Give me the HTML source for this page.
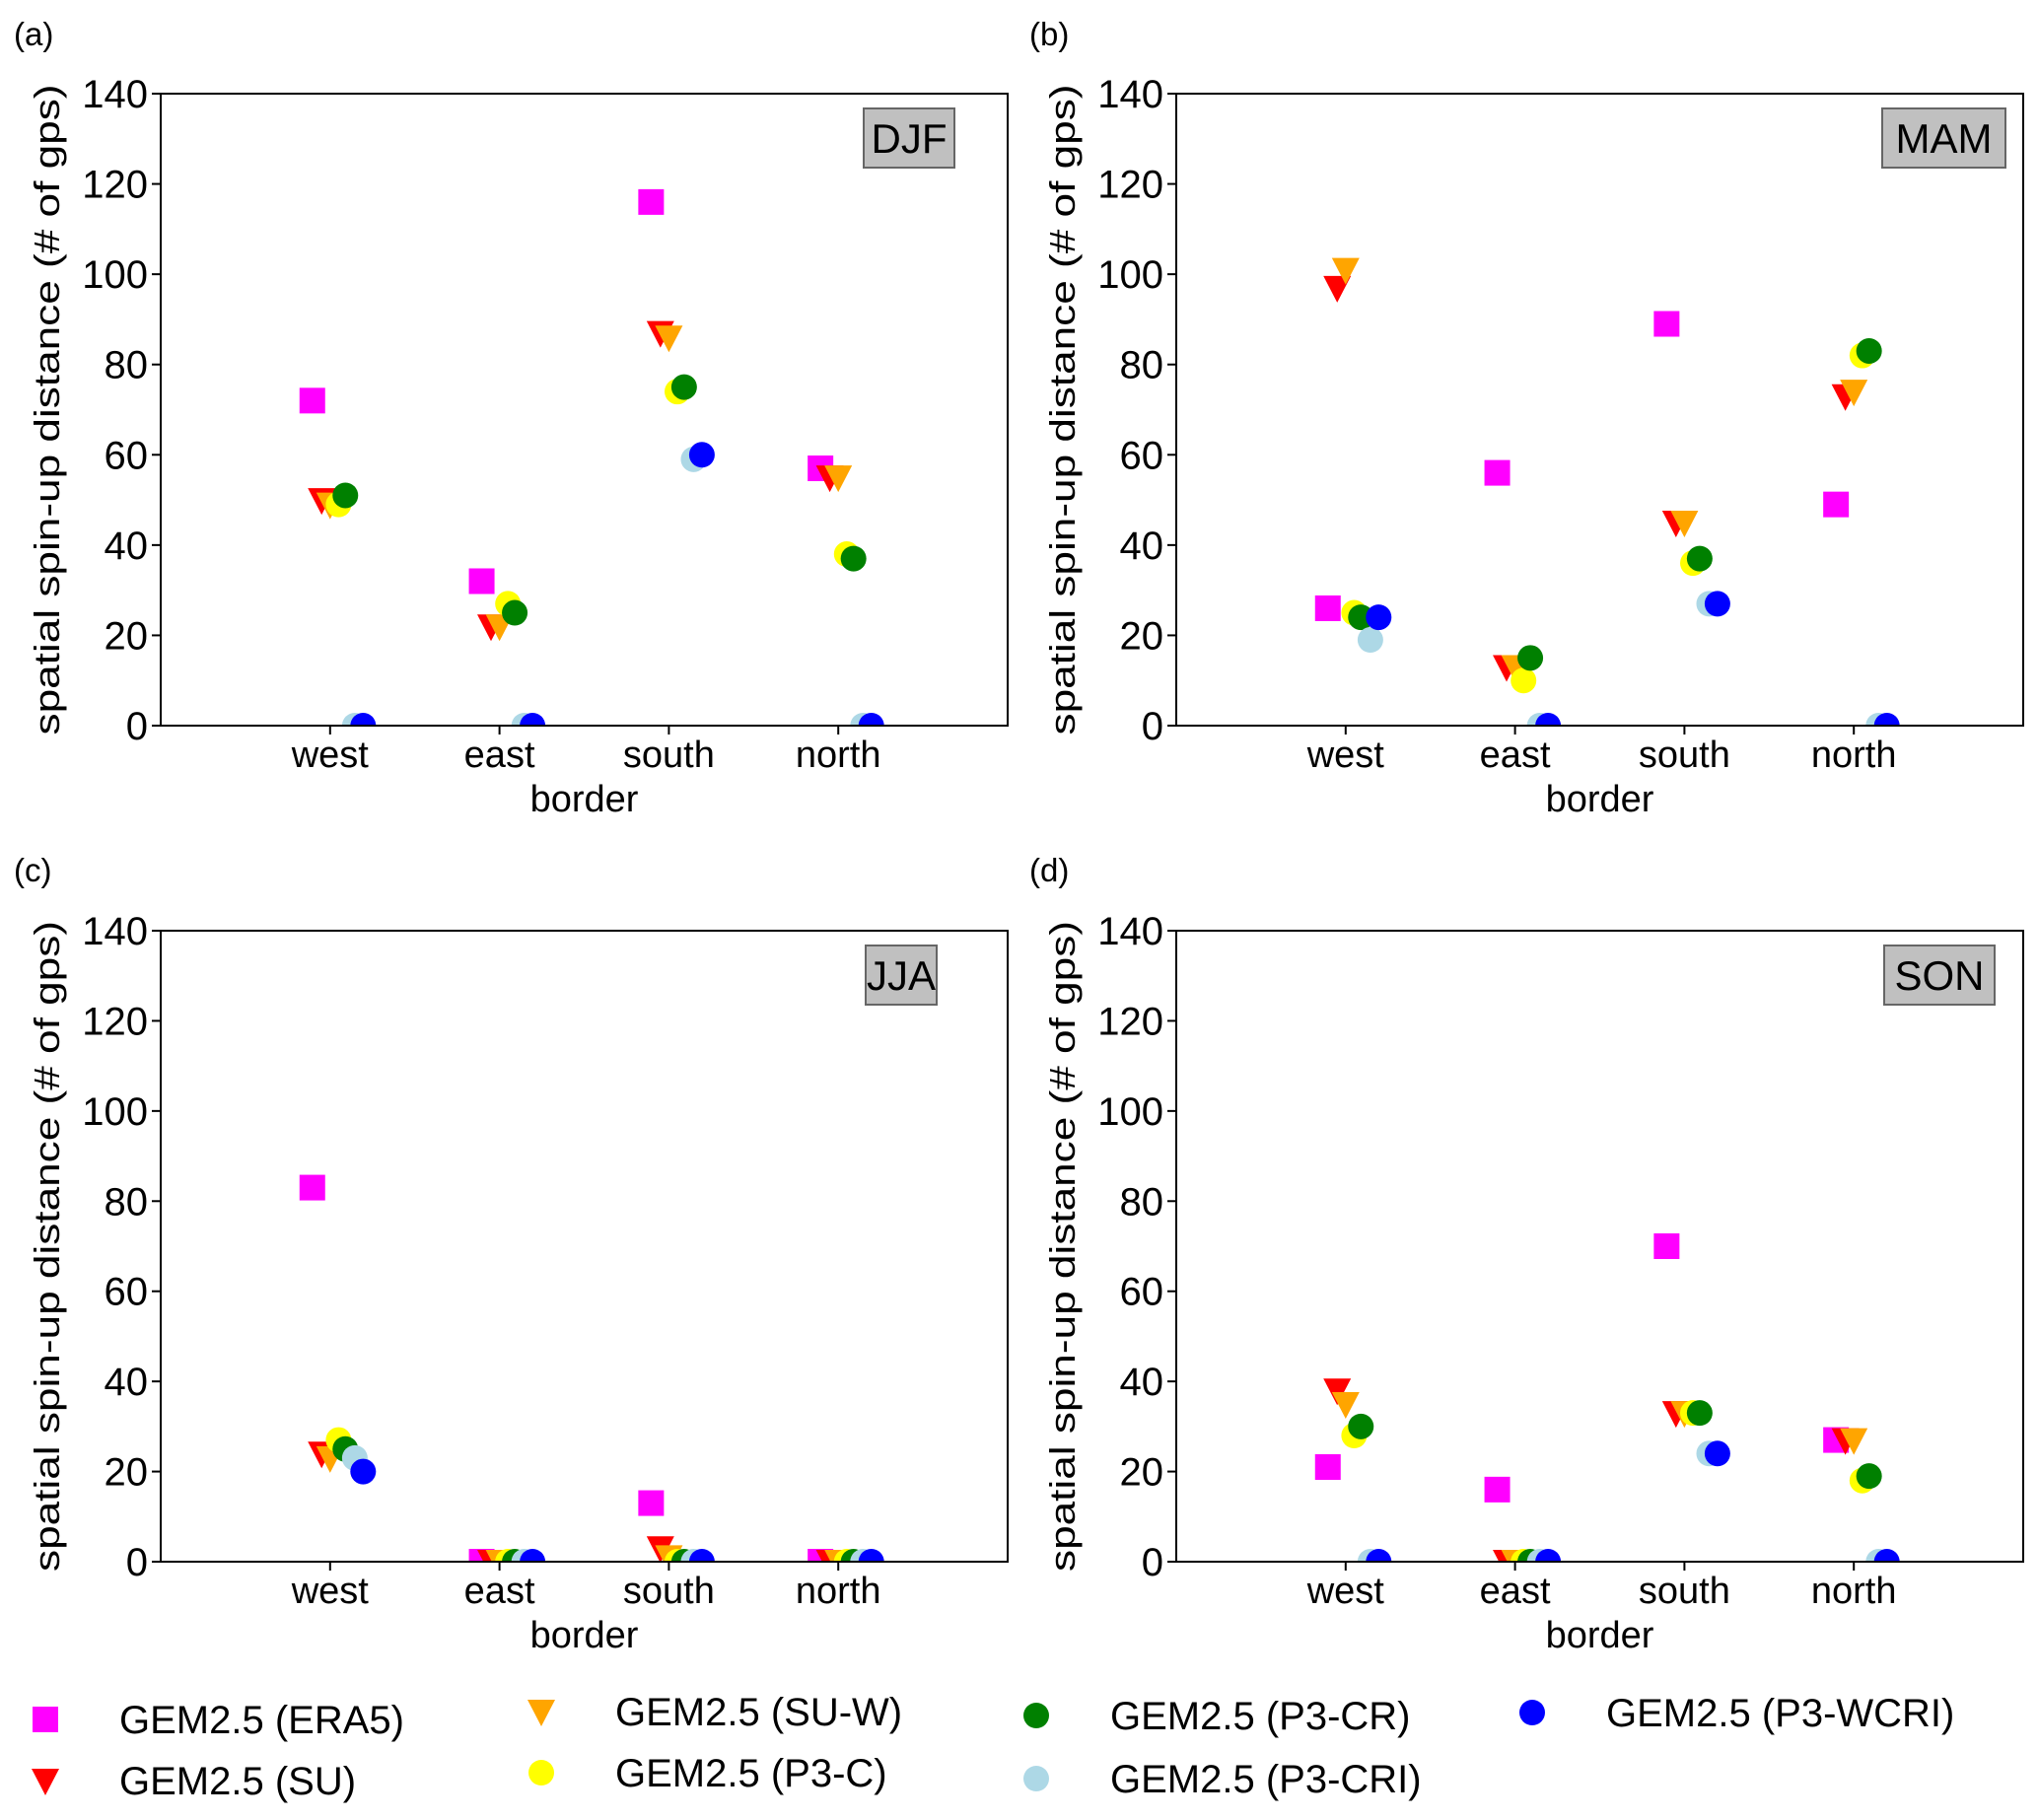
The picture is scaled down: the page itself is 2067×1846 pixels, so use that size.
<!DOCTYPE html>
<html><head><meta charset="utf-8"><style>
body{margin:0;background:#fff}
svg{display:block;font-family:"Liberation Sans",sans-serif}
</style></head><body>
<svg id="fig" width="2067" height="1846" viewBox="0 0 2067 1846"></svg>
<script>
const categories=["west","east","south","north"];
const seasons=["DJF","MAM","JJA","SON"];
const panelLetters=["(a)","(b)","(c)","(d)"];
const yTicks=[0,20,40,60,80,100,120,140];
const seriesNames=["GEM2.5 (ERA5)","GEM2.5 (SU)","GEM2.5 (SU-W)","GEM2.5 (P3-C)","GEM2.5 (P3-CR)","GEM2.5 (P3-CRI)","GEM2.5 (P3-WCRI)"];
const era5=[[72,32,116,57],[26,56,89,49],[83,0,13,0],[21,16,70,27]];
const su=[[50,22,87,55],[97,13,45,73],[24,0,3,0],[38,0,33,27]];
const suw=[[49,22,86,55],[101,13,45,74],[23,0,1,0],[35,0,33,27]];
const p3c=[[49,27,74,38],[25,10,36,82],[27,0,0,0],[28,0,33,18]];
const p3cr=[[51,25,75,37],[24,15,37,83],[25,0,0,0],[30,0,33,19]];
const p3cri=[[0,0,59,0],[19,0,27,0],[23,0,0,0],[0,0,24,0]];
const p3wcri=[[0,0,60,0],[24,0,27,0],[20,0,0,0],[0,0,24,0]];
const allSeries=[era5,su,suw,p3c,p3cr,p3cri,p3wcri];
const colors=["#ff00ff","#ff0000","#ffa500","#ffff00","#008000","#add8e6","#0000ff"];
const shapes=["s","v","v","o","o","o","o"];
const offsets=[-0.105,-0.05,0,0.05,0.09,0.146,0.195];
const NS="http://www.w3.org/2000/svg";
const svg=document.getElementById("fig");
function mk(tag,attrs,parent){const e=document.createElementNS(NS,tag);for(const k in attrs)e.setAttribute(k,attrs[k]);(parent||svg).appendChild(e);return e;}
const panels=[{l:163,r:1022,t:95,b:736,bx:[876,968],lx:14,ly:46},{l:1193,r:2052,t:95,b:736,bx:[1909,2034],lx:1044,ly:46},
{l:163,r:1022,t:944,b:1584,bx:[878,950],lx:14,ly:894},{l:1193,r:2052,t:944,b:1584,bx:[1911,2023],lx:1044,ly:894}];
function marker(g,shape,cx,cy,color){
  let e;
  if(shape==="s"){e=mk("rect",{x:cx-13,y:cy-13,width:26,height:26,fill:color},g);}
  else if(shape==="v"){e=mk("polygon",{points:`${cx-14},${cy-12} ${cx+14},${cy-12} ${cx},${cy+15}`,fill:color},g);}
  else {e=mk("circle",{cx:cx,cy:cy,r:13,fill:color},g);}
  return e;
}
panels.forEach((p,pi)=>{
  const g=mk("g",{});
  
  
  const xs=v=>p.l+(v+1)/5*(p.r-p.l);
  const ys=v=>p.b-v/140*(p.b-p.t);
  const lt=mk("text",{x:p.lx,y:p.ly,"font-size":33,fill:"#000"},g);lt.textContent=panelLetters[pi];
  
  
  const cp=mk("clipPath",{id:"cp"+pi},g);mk("rect",{x:p.l,y:p.t,width:p.r-p.l,height:p.b-p.t},cp);
  const mg=mk("g",{"clip-path":`url(#cp${pi})`},g);
  allSeries.forEach((s,si)=>{
    s[pi].forEach((v,ci)=>{
      const m=marker(mg,shapes[si],xs(ci+offsets[si]),ys(v),colors[si]);
      
      
    });
  });
  const fr=mk("rect",{x:p.l,y:p.t,width:p.r-p.l,height:p.b-p.t,fill:"none",stroke:"#000","stroke-width":2},g);
  
  
  yTicks.forEach(t=>{
    mk("line",{x1:p.l-9,x2:p.l,y1:ys(t),y2:ys(t),stroke:"#000","stroke-width":2},g);
    const tx=mk("text",{x:p.l-13,y:ys(t)+14,"font-size":40,"text-anchor":"end"},g);tx.textContent=t;
    
    
  });
  categories.forEach((c,ci)=>{
    mk("line",{x1:xs(ci),x2:xs(ci),y1:p.b,y2:p.b+9,stroke:"#000","stroke-width":2},g);
    const tx=mk("text",{x:xs(ci),y:p.b+42,"font-size":38,"text-anchor":"middle"},g);tx.textContent=c;
    
    
  });
  const xt=mk("text",{x:(p.l+p.r)/2,y:p.b+87,"font-size":38,"text-anchor":"middle"},g);xt.textContent="border";
  
  
  const yc=(p.t+p.b)/2, yx=p.l-103;
  const yt=mk("text",{x:yx,y:yc,"font-size":36,"text-anchor":"middle",transform:`rotate(-90 ${yx} ${yc})`,textLength:660,lengthAdjust:"spacingAndGlyphs"},g);
  yt.textContent="spatial spin-up distance (# of gps)";
  
  
  const by=p.t+15;
  const br=mk("rect",{x:p.bx[0],y:by,width:p.bx[1]-p.bx[0],height:60,fill:"#c0c0c0",stroke:"#666","stroke-width":2},g);
  
  
  const bt=mk("text",{x:(p.bx[0]+p.bx[1])/2,y:by+45,"font-size":42,"text-anchor":"middle"},g);bt.textContent=seasons[pi];
  
  
});
const legPos=[[46,1744],[46,1806],[549,1736],[549,1798],[1051,1740],[1051,1804],[1554,1737]];
const lg=mk("g",{});


seriesNames.forEach((n,i)=>{
  const [x,y]=legPos[i];
  const eg=mk("g",{},lg);
  
  
  marker(eg,shapes[i],x,y,colors[i]);
  const t=mk("text",{x:x+75,y:y+14,"font-size":40},eg);t.textContent=n;
});
</script>
</body></html>
